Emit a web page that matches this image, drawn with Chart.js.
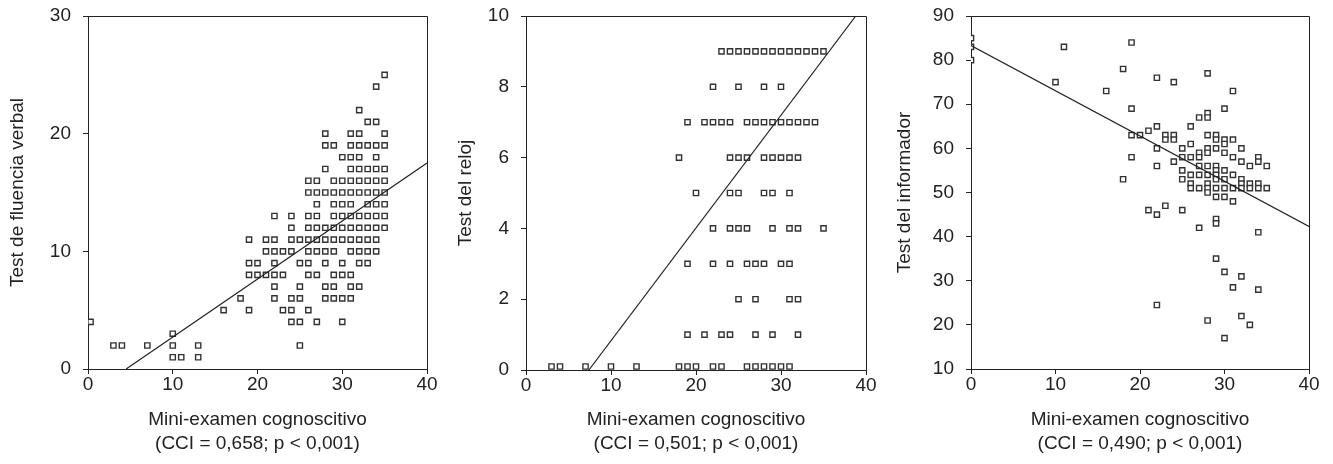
<!DOCTYPE html>
<html>
<head>
<meta charset="utf-8">
<script src="https://cdn.jsdelivr.net/npm/chart.js@4.4.1/dist/chart.umd.min.js"></script>
<style>
  html, body { margin: 0; padding: 0; background: #fff; }
  #wrap { position: relative; width: 1333px; height: 464px; }
  canvas { position: absolute; top: 0; }
</style>
</head>
<body>
<div id="wrap">
  <canvas id="fluencia" width="444" height="464" style="left:0px"></canvas>
  <canvas id="reloj" width="444" height="464" style="left:444px"></canvas>
  <canvas id="informador" width="445" height="464" style="left:888px"></canvas>
</div>
<script>
// shared x axis
const xTicks = [0, 10, 20, 30, 40];
const xTitle = 'Mini-examen cognoscitivo';

// panel 1: Test de fluencia verbal (rows: y value -> x values)
const fluenciaY = [25, 24, 22, 21, 20, 19, 18, 17, 16, 15, 14, 13, 12, 11, 10, 9, 8, 7, 6, 5, 4, 3, 2, 1];
const fluenciaX = [
  [35], [34], [32], [33, 34], [28, 31, 32, 35],
  [28, 29, 31, 32, 33, 34, 35],
  [30, 31, 32, 34],
  [28, 31, 32, 33, 34, 35],
  [26, 27, 29, 30, 31, 32, 33, 34, 35],
  [26, 27, 28, 29, 30, 31, 32, 33, 34, 35],
  [27, 29, 30, 31, 33, 34, 35],
  [22, 24, 26, 27, 29, 30, 31, 32, 33, 34, 35],
  [24, 26, 27, 28, 29, 30, 31, 32, 33, 34, 35],
  [19, 21, 22, 24, 25, 26, 27, 28, 29, 30, 31, 32, 33, 34],
  [21, 22, 23, 24, 26, 27, 28, 29, 31, 32, 33, 34],
  [19, 20, 22, 25, 26, 28, 30, 32, 33],
  [19, 20, 21, 22, 23, 26, 27, 29, 30, 31],
  [22, 25, 28, 29, 31, 32],
  [18, 22, 24, 25, 28, 29, 30, 31],
  [16, 19, 23, 24, 26],
  [0.3, 24, 25, 27, 30],
  [10],
  [3, 4, 7, 10, 13, 25],
  [10, 11, 13]
];
const fluenciaFitX = [4.5, 40];
const fluenciaFitY = [0, 17.5];
const fluenciaTicks = [0, 10, 20, 30];

// panel 2: Test del reloj
const relojY = [9, 8, 7, 6, 5, 4, 3, 2, 1, 0.1];
const relojX = [
  [23, 24, 25, 26, 27, 28, 29, 30, 31, 32, 33, 34, 35],
  [22, 25, 28, 30],
  [19, 21, 22, 23, 24, 26, 27, 28, 29, 30, 31, 32, 33, 34],
  [18, 24, 25, 26, 28, 29, 30, 31, 32],
  [20, 24, 25, 28, 29, 31],
  [22, 24, 25, 26, 29, 31, 32, 35],
  [19, 22, 24, 26, 27, 28, 30, 31],
  [25, 27, 31, 32],
  [19, 21, 23, 24, 27, 29, 32],
  [3, 4, 7, 10, 13, 18, 19, 20, 22, 23, 26, 27, 28, 29, 30, 31]
];
const relojFitX = [7.4, 38.8];
const relojFitY = [0, 10];
const relojTicks = [0, 2, 4, 6, 8, 10];

// panel 3: Test del informador (x, y pairs)
const informadorX = [0, 0, 0, 11, 19, 10, 16, 18, 22, 24, 28, 31, 19, 30, 27, 28, 28, 22, 26, 21,
  19, 20, 23, 23, 24, 24, 28, 29, 29, 30, 30, 31, 22, 26, 25, 28, 28, 29, 30, 32,
  19, 25, 26, 27, 27, 31, 34, 34, 32, 33, 35, 22, 24, 18, 25, 25, 26, 27, 28, 27,
  28, 29, 29, 29, 29, 30, 30, 31, 32, 32, 32, 33, 33, 34, 34, 35, 26, 26, 27, 28,
  28, 28, 29, 30, 31, 29, 30, 31, 23, 21, 22, 25, 29, 29, 27, 34, 29, 30, 32, 31,
  34, 22, 28, 32, 33, 30];
const informadorY = [85, 83, 80, 83, 84, 75, 73, 78, 76, 75, 77, 73, 69, 69, 67, 68, 67, 65, 65, 64,
  63, 63, 63, 62, 63, 62, 63, 63, 62, 62, 61, 62, 60, 61, 60, 60, 59, 60, 59, 60,
  58, 58, 58, 59, 58, 58, 58, 57, 57, 56, 56, 56, 57, 53, 55, 53, 54, 54, 54, 56,
  56, 56, 55, 54, 53, 55, 53, 54, 53, 52, 51, 52, 51, 52, 51, 51, 52, 51, 51, 52,
  51, 50, 51, 51, 51, 49, 49, 48, 47, 46, 45, 46, 44, 43, 42, 41, 35, 32, 31, 28.5,
  28, 24.5, 21, 22, 20, 17];
const informadorFitX = [0, 40];
const informadorFitY = [83.3, 42.3];
const informadorTicks = [10, 20, 30, 40, 50, 60, 70, 80, 90];

const INK = '#222';
const FONT = { family: '"Liberation Sans", Arial, sans-serif', size: 19 };
Chart.defaults.font = FONT;
Chart.defaults.color = INK;

function rowsToPoints(ys, xsByRow) {
  const pts = [];
  ys.forEach((y, i) => xsByRow[i].forEach(x => pts.push({ x, y })));
  return pts;
}
function pairsToPoints(xs, ys) {
  return xs.map((x, i) => ({ x, y: ys[i] }));
}

// top and right edges of the box
const frame = {
  id: 'frame',
  afterDraw(chart) {
    const { ctx, chartArea: a } = chart;
    const l = Math.round(a.left) + 0.5, r = Math.round(a.right) + 0.5;
    const t = Math.round(a.top) + 0.5, b = Math.round(a.bottom) + 0.5;
    ctx.save();
    ctx.strokeStyle = INK;
    ctx.lineWidth = 1;
    ctx.beginPath();
    ctx.moveTo(l, t); ctx.lineTo(r, t); ctx.lineTo(r, b);
    ctx.stroke();
    ctx.restore();
  }
};

function panel(id, opts) {
  new Chart(document.getElementById(id), {
    type: 'scatter',
    data: {
      datasets: [
        {
          data: pairsToPoints(opts.fitX, opts.fitY),
          showLine: true, borderColor: INK, borderWidth: 1.2,
          pointRadius: 0, fill: false
        },
        {
          data: opts.points,
          pointStyle: 'rect', pointRadius: 3.7,
          borderColor: '#333', borderWidth: 1.4,
          backgroundColor: '#fff', pointHoverRadius: 3.7
        }
      ]
    },
    options: {
      responsive: false,
      animation: false,
      devicePixelRatio: 1,
      layout: { autoPadding: false, padding: { top: 16, right: opts.right, bottom: 0, left: 0 } },
      plugins: { legend: { display: false }, tooltip: { enabled: false } },
      scales: {
        x: {
          min: 0, max: 40,
          afterFit: s => { s.height = opts.xHeight; s.paddingLeft = 0; s.paddingRight = 0; },
          afterBuildTicks: s => { s.ticks = xTicks.map(v => ({ value: v })); },
          ticks: { padding: 1, color: INK, maxRotation: 0, font: { size: 19, lineHeight: 1 } },
          grid: { drawOnChartArea: false, tickLength: 5, color: INK },
          border: { color: INK, width: 1 },
          title: {
            display: true, text: [xTitle, opts.stat], color: INK,
            font: { size: 19, lineHeight: 1.26 }, padding: { top: 4, bottom: 8 }
          }
        },
        y: {
          min: opts.yTicks[0], max: opts.yTicks[opts.yTicks.length - 1],
          afterFit: s => { s.width = opts.yWidth; s.paddingTop = 0; s.paddingBottom = 0; },
          afterBuildTicks: s => { s.ticks = opts.yTicks.map(v => ({ value: v })); },
          ticks: { padding: 12, color: INK },
          grid: { drawOnChartArea: false, tickLength: 5, color: INK },
          border: { color: INK, width: 1 },
          title: {
            display: true, text: opts.yTitle, color: INK,
            font: { size: 19, lineHeight: 1.26 }, padding: { top: opts.titleGap, bottom: 0 }
          }
        }
      }
    },
    plugins: [frame]
  });
}

panel('fluencia', {
  points: rowsToPoints(fluenciaY, fluenciaX),
  fitX: fluenciaFitX, fitY: fluenciaFitY,
  yTicks: fluenciaTicks, yTitle: 'Test de fluencia verbal',
  stat: '(CCI = 0,658; p < 0,001)',
  yWidth: 88, xHeight: 95, right: 17, titleGap: 6
});
panel('reloj', {
  points: rowsToPoints(relojY, relojX),
  fitX: relojFitX, fitY: relojFitY,
  yTicks: relojTicks, yTitle: 'Test del reloj',
  stat: '(CCI = 0,501; p < 0,001)',
  yWidth: 82, xHeight: 94, right: 22, titleGap: 10
});
panel('informador', {
  points: pairsToPoints(informadorX, informadorY),
  fitX: informadorFitX, fitY: informadorFitY,
  yTicks: informadorTicks, yTitle: 'Test del informador',
  stat: '(CCI = 0,490; p < 0,001)',
  yWidth: 83, xHeight: 95, right: 24, titleGap: 5
});
</script>
</body>
</html>
